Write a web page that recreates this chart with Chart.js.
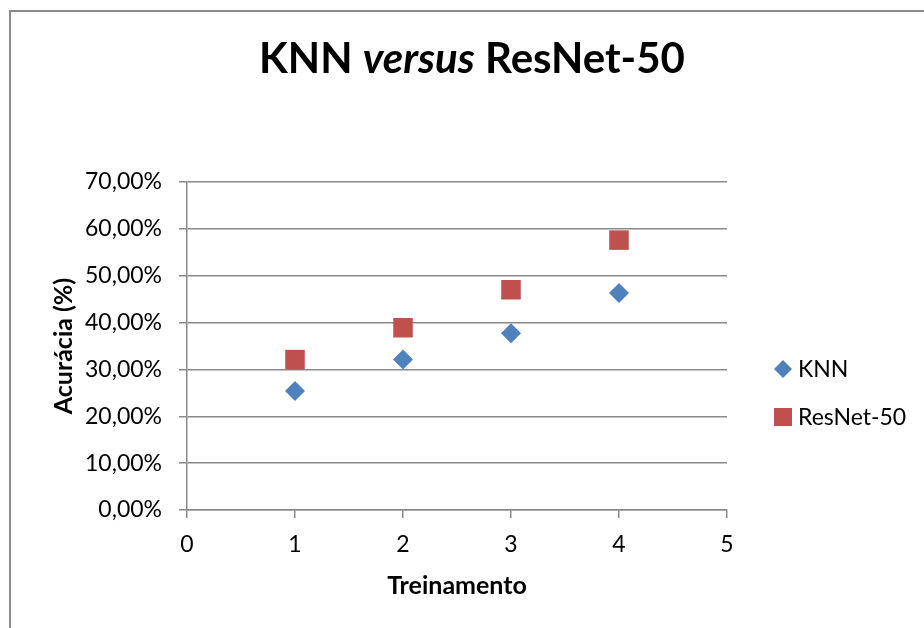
<!DOCTYPE html>
<html>
<head>
<meta charset="utf-8">
<script src="https://cdn.jsdelivr.net/npm/chart.js@4.4.1/dist/chart.umd.min.js"></script>
<style>
  html, body { margin: 0; padding: 0; background: #fff; }
  #wrap { position: relative; width: 924px; height: 628px; }
</style>
</head>
<body>
<div id="wrap"><canvas id="c" width="924" height="628"></canvas></div>
<script>
// ---- data ----
const trainingRuns = [1, 2, 3, 4];
const knnAccuracy = [25.4, 32.1, 37.7, 46.3];
const resnetAccuracy = [32.1, 38.9, 47.0, 57.6];
const seriesNames = ['KNN', 'ResNet-50'];
const titleParts = [['KNN ', false], ['versus', true], [' ResNet-50', false]];
const xAxisTitle = 'Treinamento';
const yAxisTitle = 'Acurácia (%)';

const FONT = 'Lato, "Open Sans", sans-serif';
const BLUE = '#4F81BD';
const RED = '#C0504D';
const GRID = '#898989';

const frameAndTitle = {
  id: 'frameAndTitle',
  beforeDraw(chart) {
    const ctx = chart.ctx;
    ctx.save();
    ctx.strokeStyle = '#8a8a8a';
    ctx.lineWidth = 2;
    ctx.strokeRect(10, 11, 1000, 1000);
    ctx.restore();
  },
  afterDraw(chart) {
    const ctx = chart.ctx;
    ctx.save();
    // title with mixed styles
    const size = 42;
    ctx.fillStyle = '#000';
    ctx.textBaseline = 'alphabetic';
    let total = 0;
    const widths = titleParts.map(([t, it]) => {
      ctx.font = (it ? 'italic ' : '') + 'bold ' + size + 'px ' + FONT;
      const w = ctx.measureText(t).width; total += w; return w;
    });
    let x = 472 - total / 2;
    titleParts.forEach(([t, it], i) => {
      ctx.font = (it ? 'italic ' : '') + 'bold ' + size + 'px ' + FONT;
      ctx.textAlign = 'left';
      ctx.fillText(t, x, 73);
      x += widths[i];
    });
    // legend
    const lx = chart.chartArea.right + 56;
    const items = [
      { name: seriesNames[0], color: BLUE, style: 'diamond', y: 369 },
      { name: seriesNames[1], color: RED, style: 'square', y: 417 }
    ];
    ctx.font = '23px ' + FONT;
    ctx.textBaseline = 'middle';
    items.forEach(it => {
      ctx.fillStyle = it.color;
      ctx.beginPath();
      if (it.style === 'diamond') {
        ctx.moveTo(lx - 9, it.y); ctx.lineTo(lx, it.y - 9);
        ctx.lineTo(lx + 9, it.y); ctx.lineTo(lx, it.y + 9);
        ctx.closePath();
      } else {
        ctx.rect(lx - 9, it.y - 9, 18, 18);
      }
      ctx.fill();
      ctx.fillStyle = '#000';
      ctx.fillText(it.name, lx + 15, it.y + 1);
    });
    ctx.restore();
  }
};

new Chart(document.getElementById('c'), {
  type: 'scatter',
  data: {
    datasets: [
      {
        label: seriesNames[0],
        data: trainingRuns.map((x, i) => ({ x, y: knnAccuracy[i] })),
        pointStyle: 'rectRot', radius: 10, hoverRadius: 10,
        backgroundColor: BLUE, borderColor: BLUE, borderWidth: 0
      },
      {
        label: seriesNames[1],
        data: trainingRuns.map((x, i) => ({ x, y: resnetAccuracy[i] })),
        pointStyle: 'rect', radius: 13.8, hoverRadius: 13.8,
        backgroundColor: RED, borderColor: RED, borderWidth: 0
      }
    ]
  },
  plugins: [frameAndTitle],
  options: {
    responsive: false,
    animation: false,
    devicePixelRatio: 1,
    layout: { padding: { left: 0, top: 182, right: 197, bottom: 0 } },
    plugins: { legend: { display: false }, title: { display: false }, tooltip: { enabled: false } },
    scales: {
      x: {
        type: 'linear', min: 0, max: 5,
        afterFit: s => { s.height = 118; },
        ticks: { stepSize: 1, color: '#000', font: { family: FONT, size: 23 }, padding: 13 },
        grid: { drawOnChartArea: false, drawTicks: true, tickLength: 8, color: GRID, lineWidth: 1.5 },
        border: { color: GRID, width: 1.5 },
        title: { display: true, text: xAxisTitle, color: '#000', font: { family: FONT, size: 25, weight: 'bold' }, padding: { top: 0, bottom: 27 } }
      },
      y: {
        type: 'linear', min: 0, max: 70,
        afterFit: s => { s.width = 187; },
        ticks: { stepSize: 10, color: '#000', font: { family: FONT, size: 23 }, padding: 17,
          callback: v => v.toFixed(2).replace('.', ',') + '%' },
        grid: { drawTicks: true, tickLength: 8, color: GRID, lineWidth: 1.5 },
        border: { color: GRID, width: 1.5 },
        title: { display: true, text: yAxisTitle, color: '#000', font: { family: FONT, size: 25, weight: 'bold' }, padding: { top: 49, bottom: 0 } }
      }
    }
  }
});
</script>
</body>
</html>
